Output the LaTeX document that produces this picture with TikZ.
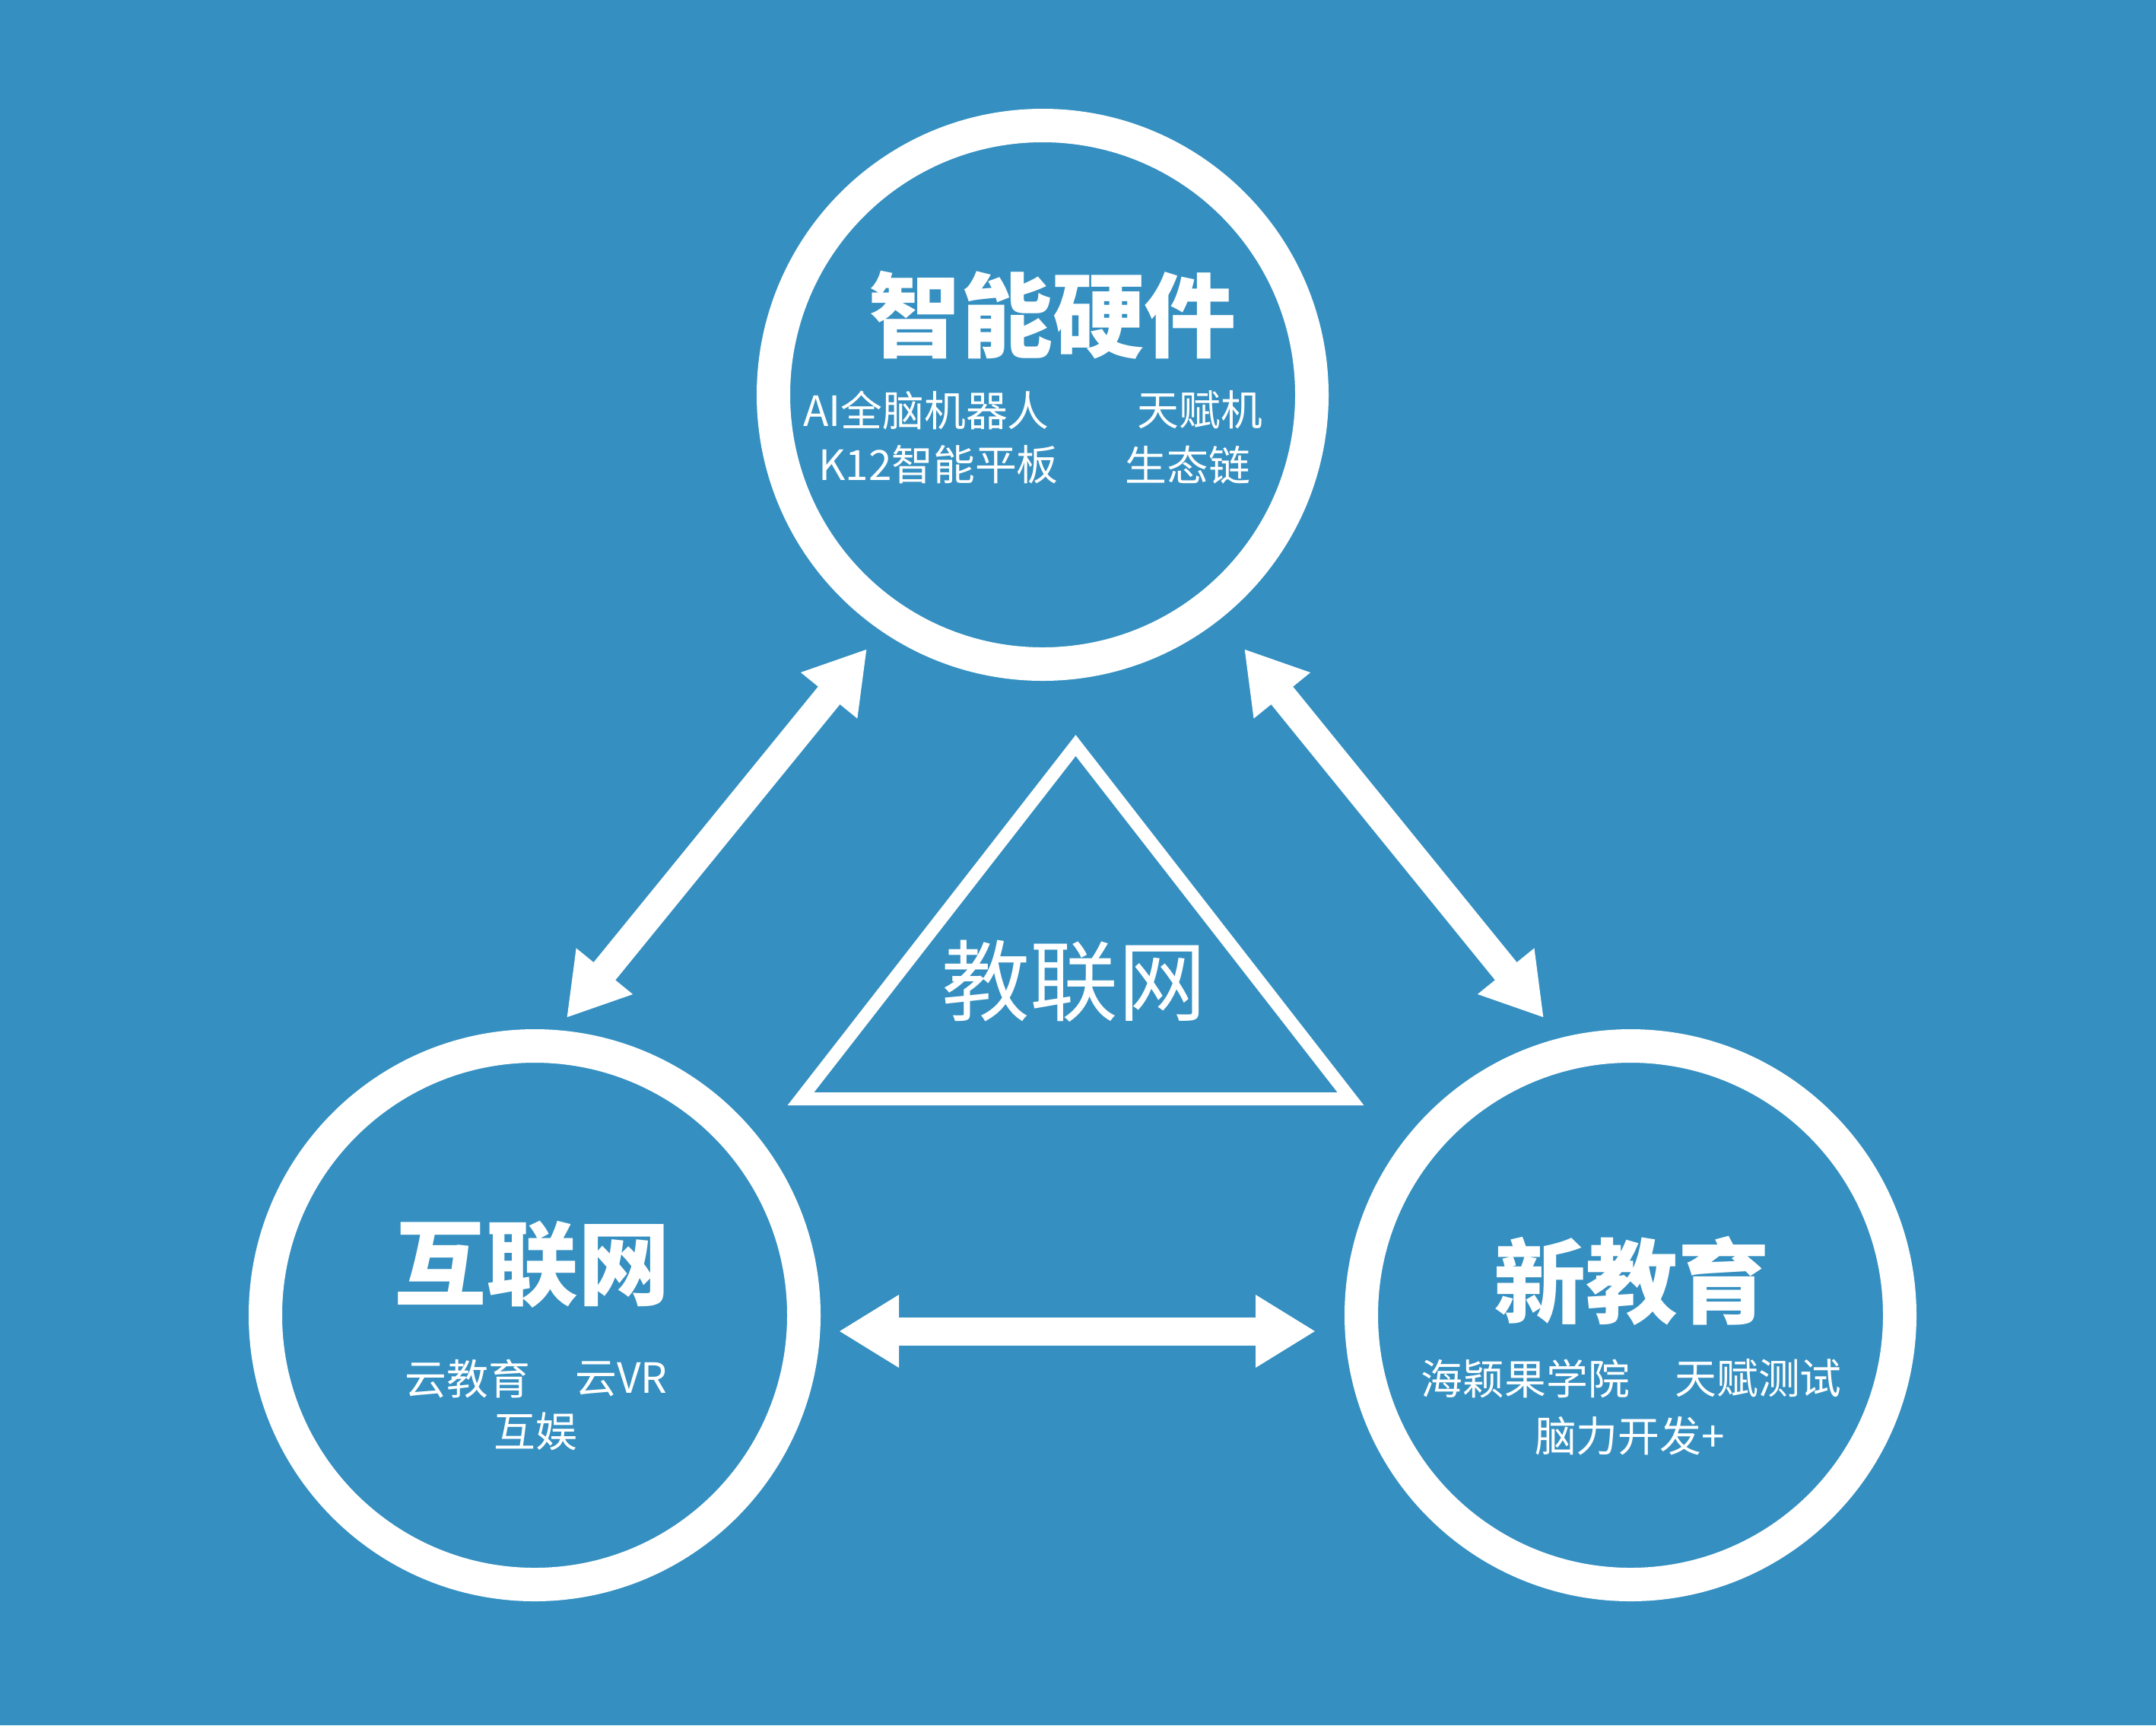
\documentclass[tikz,border=0pt]{standalone}
\usepackage{fontspec}
\setmainfont{Noto Sans CJK SC}
\usepackage{tikz}
\usetikzlibrary{arrows.meta}
\usepackage{xcolor}
\definecolor{bgblue}{RGB}{53,144,193}

\begin{document}
\begin{tikzpicture}[
  ring/.style={circle, draw=white, line width=4.4mm, minimum size=70.8mm, inner sep=0pt},
  title/.style={text=white, inner sep=0pt, font=\fontsize{34.4pt}{40pt}\selectfont\bfseries},
  item/.style={text=white, inner sep=0pt, font=\fontsize{15.6pt}{18pt}\selectfont},
  hub/.style={text=white, inner sep=0pt, font=\fontsize{33pt}{38pt}\selectfont},
  biarrow/.style={<->, >={Triangle[length=7.9mm,width=9mm]}, line width=3.7mm, draw=white},
]

% background
\fill[bgblue] (0,0) rectangle (28.35,-22.68);

% top: hardware
\node[ring] (hw) at (13.71,-5.19) {};
\node[title] (hwTitle) at (13.84,-4.14) {智能硬件};
\node[item] (hwRobot) at (12.18,-5.39) {AI全脑机器人};
\node[item] (hwTalent) at (15.78,-5.39) {天赋机};
\node[item] (hwPad) at (12.34,-6.11) {K12智能平板};
\node[item] (hwChain) at (15.62,-6.11) {生态链};

% bottom left: internet
\node[ring] (net) at (7.03,-17.29) {};
\node[title] (netTitle) at (7.00,-16.62) {互联网};
\node[item] (netCloud) at (6.15,-18.13) {云教育};
\node[item] (netVR) at (8.17,-18.13) {云VR};
\node[item] (netFun) at (7.04,-18.82) {互娱};

% bottom right: education
\node[ring] (edu) at (21.44,-17.29) {};
\node[title] (eduTitle) at (21.46,-16.84) {新教育};
\node[item] (eduSchool) at (20.06,-18.12) {海颖果学院};
\node[item] (eduTest) at (23.12,-18.12) {天赋测试};
\node[item] (eduBrain) at (21.43,-18.88) {脑力开发+};

% centre triangle
\draw[white, line width=1.7mm] (10.53,-14.445) -- (14.145,-9.80) -- (17.76,-14.445) -- cycle;
\node[hub] (hubText) at (14.12,-12.90) {教联网};

% arrows between the circles
\coordinate (hwSW) at (11.40,-8.53);
\coordinate (netNE) at (7.45,-13.38);
\coordinate (hwSE) at (16.36,-8.53);
\coordinate (eduNW) at (20.30,-13.38);
\coordinate (netE) at (11.03,-17.50);
\coordinate (eduW) at (17.30,-17.50);
\draw[biarrow] (hwSW) -- (netNE);
\draw[biarrow] (hwSE) -- (eduNW);
\draw[biarrow] (netE) -- (eduW);

\end{tikzpicture}
\end{document}
